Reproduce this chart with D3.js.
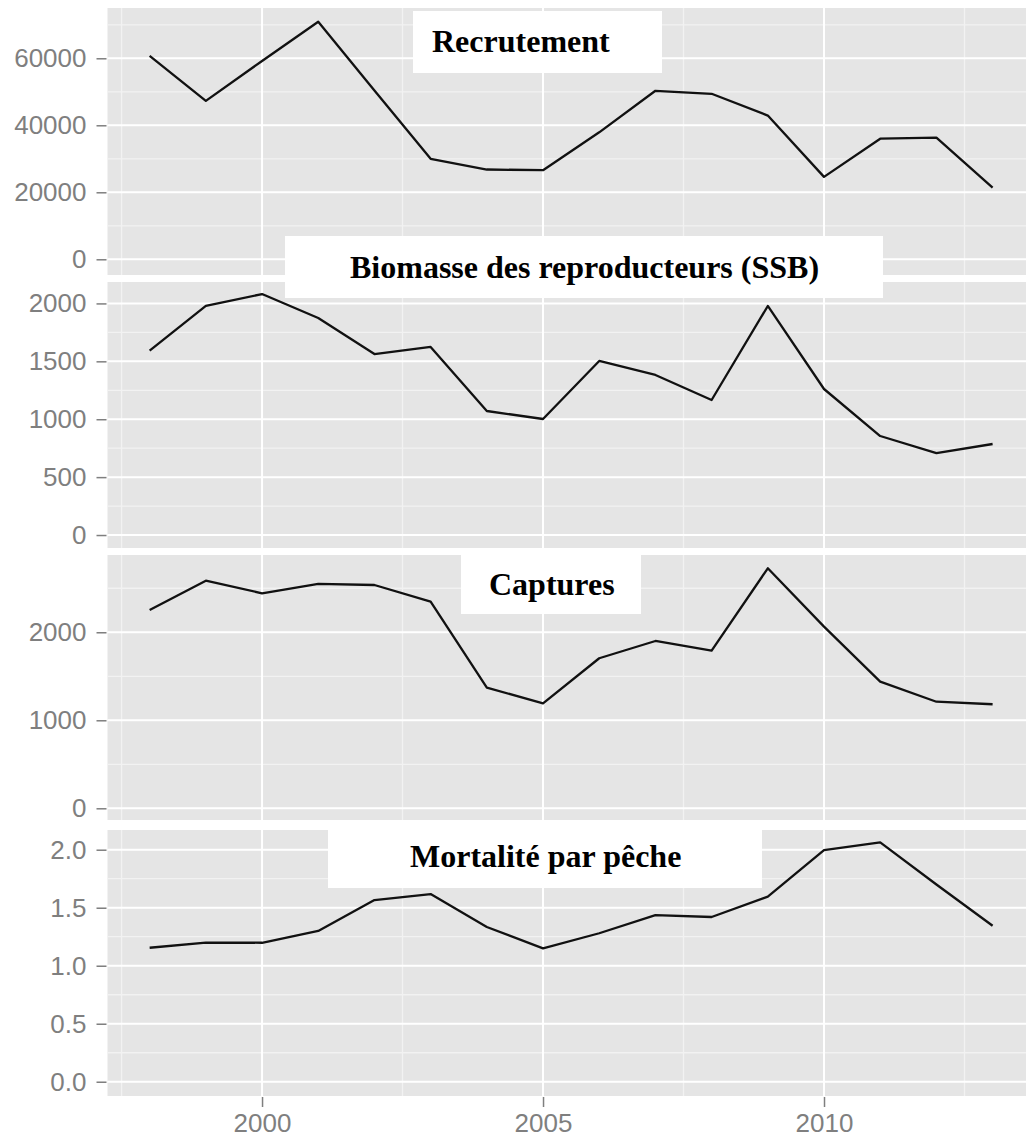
<!DOCTYPE html>
<html>
<head>
<meta charset="utf-8">
<script src="https://cdn.jsdelivr.net/npm/d3@7"></script>
<style>
  body { margin: 0; background: #fff; }
</style>
</head>
<body>
<svg></svg>
<script>
// values
var years = [1998, 1999, 2000, 2001, 2002, 2003, 2004, 2005, 2006, 2007, 2008, 2009, 2010, 2011, 2012, 2013];
var recrutement = [60700, 47300, 59200, 70900, 50400, 30000, 26800, 26600, 37900, 50300, 49400, 42900, 24600, 36000, 36300, 21400];
var ssb = [1592, 1978, 2081, 1874, 1563, 1624, 1071, 1002, 1503, 1382, 1166, 1978, 1261, 855, 708, 786];
var captures = [2253, 2586, 2443, 2549, 2537, 2348, 1371, 1193, 1705, 1901, 1791, 2727, 2064, 1439, 1211, 1182];
var mortalite = [1.155, 1.20, 1.198, 1.30, 1.566, 1.618, 1.334, 1.15, 1.28, 1.436, 1.42, 1.595, 1.997, 2.064, 1.70, 1.345];

var titles = ["Recrutement", "Biomasse des reproducteurs (SSB)", "Captures", "Mortalité par pêche"];
var series = [recrutement, ssb, captures, mortalite];

var yTicks = [[0, 20000, 40000, 60000], [0, 500, 1000, 1500, 2000], [0, 1000, 2000], [0, 0.5, 1, 1.5, 2]];
var yMinor = [[10000, 30000, 50000, 70000], [250, 750, 1250, 1750], [500, 1500, 2500], [0.25, 0.75, 1.25, 1.75]];
var yFormat = ["d", "d", "d", ".1f"];
var xTicks = [2000, 2005, 2010];
var xMinor = [1997.5, 2002.5, 2007.5, 2012.5];

// layout
var W = 1026, H = 1141;
var panelLeft = 107.5, panelRight = 1034.75;
var panels = [
  {top: 8,   bottom: 275,  domain: [-4690, 75010]},
  {top: 282, bottom: 548,  domain: [-112, 2185]},
  {top: 555, bottom: 820,  domain: [-133, 2878]},
  {top: 830, bottom: 1096, domain: [-0.123, 2.17]}
];
var boxes = [
  {x: 413, y: 11,  w: 249, h: 62, tx: 432, ty: 52},
  {x: 285, y: 236, w: 598, h: 62, tx: 350, ty: 278},
  {x: 461, y: 554, w: 180, h: 60, tx: 489, ty: 595},
  {x: 328, y: 830, w: 434, h: 58, tx: 410, ty: 867}
];

var svg = d3.select("svg").attr("width", W).attr("height", H);

var x = d3.scaleLinear().domain([1997.25, 2013.75]).range([panelLeft, panelRight]);

var axisGrey = "#7f7f7f";

panels.forEach(function (p, i) {
  var y = d3.scaleLinear().domain(p.domain).range([p.bottom, p.top]);
  var g = svg.append("g");

  //background
  g.append("rect")
    .attr("x", panelLeft).attr("y", p.top)
    .attr("width", panelRight - panelLeft).attr("height", p.bottom - p.top)
    .style("fill", "#e5e5e5");

  //minor grid
  g.selectAll(".hminor").data(yMinor[i]).enter().append("line")
    .attr("x1", panelLeft).attr("x2", panelRight)
    .attr("y1", function (d) { return y(d); }).attr("y2", function (d) { return y(d); })
    .style("stroke", "#f2f2f2").style("stroke-width", 1.3);
  g.selectAll(".vminor").data(xMinor).enter().append("line")
    .attr("y1", p.top).attr("y2", p.bottom)
    .attr("x1", function (d) { return x(d); }).attr("x2", function (d) { return x(d); })
    .style("stroke", "#f2f2f2").style("stroke-width", 1.3);

  //major grid
  g.selectAll(".hmajor").data(yTicks[i]).enter().append("line")
    .attr("x1", panelLeft).attr("x2", panelRight)
    .attr("y1", function (d) { return y(d); }).attr("y2", function (d) { return y(d); })
    .style("stroke", "#ffffff").style("stroke-width", 2);
  g.selectAll(".vmajor").data(xTicks).enter().append("line")
    .attr("y1", p.top).attr("y2", p.bottom)
    .attr("x1", function (d) { return x(d); }).attr("x2", function (d) { return x(d); })
    .style("stroke", "#ffffff").style("stroke-width", 2);

  //y axis
  var yAxis = g.append("g")
    .attr("transform", "translate(" + (panelLeft - 1) + ",0)")
    .call(d3.axisLeft(y).tickValues(yTicks[i]).tickFormat(d3.format(yFormat[i])).tickSize(10).tickPadding(10));
  yAxis.select(".domain").remove();
  yAxis.selectAll(".tick line").style("stroke", axisGrey).style("stroke-width", 1.5);
  yAxis.selectAll("text")
    .style("fill", axisGrey)
    .style("font-family", "'Liberation Sans', Arial, sans-serif")
    .style("font-size", "26px");

  //line
  var line = d3.line()
    .x(function (d, k) { return x(years[k]); })
    .y(function (d) { return y(d); });
  g.append("path")
    .datum(series[i])
    .attr("d", line)
    .style("fill", "none")
    .style("stroke", "#111")
    .style("stroke-width", 2.3)
    .style("stroke-linejoin", "round");
});

//x axis under the last panel
var last = panels[panels.length - 1];
var xAxis = svg.append("g")
  .attr("transform", "translate(0," + (last.bottom + 1) + ")")
  .call(d3.axisBottom(x).tickValues(xTicks).tickFormat(d3.format("d")).tickSize(10).tickPadding(7));
xAxis.select(".domain").remove();
xAxis.selectAll(".tick line").style("stroke", axisGrey).style("stroke-width", 1.5);
xAxis.selectAll("text")
  .style("fill", axisGrey)
  .style("font-family", "'Liberation Sans', Arial, sans-serif")
  .style("font-size", "26px");

//title boxes
boxes.forEach(function (b, i) {
  svg.append("rect")
    .attr("x", b.x).attr("y", b.y).attr("width", b.w).attr("height", b.h)
    .style("fill", "#ffffff");
  svg.append("text")
    .attr("x", b.tx).attr("y", b.ty)
    .style("font-family", "'Liberation Serif', 'Times New Roman', serif")
    .style("font-weight", "bold")
    .style("font-size", "32px")
    .style("fill", "#000")
    .text(titles[i]);
});
</script>
</body>
</html>
